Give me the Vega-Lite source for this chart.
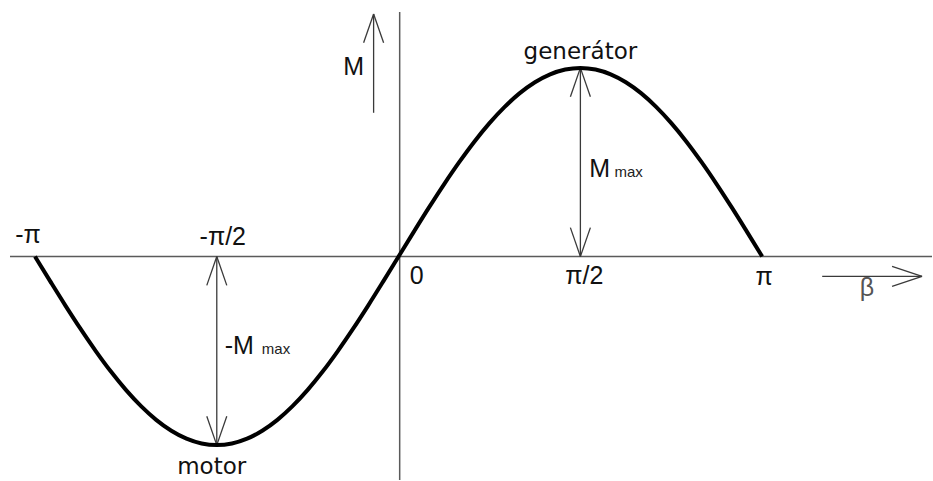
{
  "$schema": "https://vega.github.io/schema/vega-lite/v6.json",
  "width": 933,
  "height": 481,
  "padding": 0,
  "autosize": {"type": "fit", "contains": "padding"},
  "background": "white",
  "config": {"view": {"stroke": null}},
  "datasets": {
    "curve": [
      {"b": -1, "m": 0}, {"b": -0.9583, "m": -0.1305}, {"b": -0.9167, "m": -0.2588}, {"b": -0.875, "m": -0.3827},
      {"b": -0.8333, "m": -0.5}, {"b": -0.7917, "m": -0.6088}, {"b": -0.75, "m": -0.7071}, {"b": -0.7083, "m": -0.7934},
      {"b": -0.6667, "m": -0.866}, {"b": -0.625, "m": -0.9239}, {"b": -0.5833, "m": -0.9659}, {"b": -0.5417, "m": -0.9914},
      {"b": -0.5, "m": -1}, {"b": -0.4583, "m": -0.9914}, {"b": -0.4167, "m": -0.9659}, {"b": -0.375, "m": -0.9239},
      {"b": -0.3333, "m": -0.866}, {"b": -0.2917, "m": -0.7934}, {"b": -0.25, "m": -0.7071}, {"b": -0.2083, "m": -0.6088},
      {"b": -0.1667, "m": -0.5}, {"b": -0.125, "m": -0.3827}, {"b": -0.0833, "m": -0.2588}, {"b": -0.0417, "m": -0.1305},
      {"b": 0, "m": 0},
      {"b": 0.0417, "m": 0.1305}, {"b": 0.0833, "m": 0.2588}, {"b": 0.125, "m": 0.3827}, {"b": 0.1667, "m": 0.5},
      {"b": 0.2083, "m": 0.6088}, {"b": 0.25, "m": 0.7071}, {"b": 0.2917, "m": 0.7934}, {"b": 0.3333, "m": 0.866},
      {"b": 0.375, "m": 0.9239}, {"b": 0.4167, "m": 0.9659}, {"b": 0.4583, "m": 0.9914}, {"b": 0.5, "m": 1},
      {"b": 0.5417, "m": 0.9914}, {"b": 0.5833, "m": 0.9659}, {"b": 0.625, "m": 0.9239}, {"b": 0.6667, "m": 0.866},
      {"b": 0.7083, "m": 0.7934}, {"b": 0.75, "m": 0.7071}, {"b": 0.7917, "m": 0.6088}, {"b": 0.8333, "m": 0.5},
      {"b": 0.875, "m": 0.3827}, {"b": 0.9167, "m": 0.2588}, {"b": 0.9583, "m": 0.1305}, {"b": 1, "m": 0}
    ],
    "axes": [
      {"name": "beta axis", "b": -1.0687, "b2": 1.467, "m": 0, "m2": 0},
      {"name": "M axis", "b": 0.003, "b2": 0.003, "m": 1.296, "m2": -1.185}
    ],
    "arrows": [
      {"name": "M", "b": -0.0687, "b2": -0.0687, "m": 1.286, "m2": 0.762},
      {"name": "M head", "b": -0.0687, "b2": -0.0962, "m": 1.286, "m2": 1.133},
      {"name": "M head", "b": -0.0687, "b2": -0.0412, "m": 1.286, "m2": 1.133},
      {"name": "Mmax", "b": 0.5, "b2": 0.5, "m": 0, "m2": 1},
      {"name": "Mmax top head", "b": 0.5, "b2": 0.4725, "m": 1, "m2": 0.847},
      {"name": "Mmax top head", "b": 0.5, "b2": 0.5275, "m": 1, "m2": 0.847},
      {"name": "Mmax bottom head", "b": 0.5, "b2": 0.4725, "m": 0, "m2": 0.153},
      {"name": "Mmax bottom head", "b": 0.5, "b2": 0.5275, "m": 0, "m2": 0.153},
      {"name": "-Mmax", "b": -0.5, "b2": -0.5, "m": 0, "m2": -1},
      {"name": "-Mmax top head", "b": -0.5, "b2": -0.5275, "m": 0, "m2": -0.153},
      {"name": "-Mmax top head", "b": -0.5, "b2": -0.4725, "m": 0, "m2": -0.153},
      {"name": "-Mmax bottom head", "b": -0.5, "b2": -0.5275, "m": -1, "m2": -0.847},
      {"name": "-Mmax bottom head", "b": -0.5, "b2": -0.4725, "m": -1, "m2": -0.847},
      {"name": "beta", "b": 1.165, "b2": 1.4396, "m": -0.1058, "m2": -0.1058},
      {"name": "beta head", "b": 1.4396, "b2": 1.3572, "m": -0.1058, "m2": -0.0529},
      {"name": "beta head", "b": 1.4396, "b2": 1.3572, "m": -0.1058, "m2": -0.1587}
    ],
    "labels": [
      {"text": "-π", "kind": "tick", "b": -1.019, "m": 0.074},
      {"text": "-π/2", "kind": "tick", "b": -0.4835, "m": 0.0635},
      {"text": "0", "kind": "tick", "b": 0.0495, "m": -0.148},
      {"text": "π/2", "kind": "tick", "b": 0.511, "m": -0.148},
      {"text": "π", "kind": "tick", "b": 1.0055, "m": -0.153},
      {"text": "β", "kind": "greek", "b": 1.288, "m": -0.212},
      {"text": "M", "kind": "tick", "b": -0.1236, "m": 0.963},
      {"text": "generátor", "kind": "note", "b": 0.5, "m": 1.048},
      {"text": "motor", "kind": "note", "b": -0.514, "m": -1.153},
      {"text": "M", "kind": "amp", "b": 0.5247, "m": 0.423},
      {"text": "max", "kind": "sub", "b": 0.5935, "m": 0.423},
      {"text": "-M", "kind": "amp", "b": -0.478, "m": -0.5185},
      {"text": "max", "kind": "sub", "b": -0.376, "m": -0.5185}
    ]
  },
  "encoding": {
    "x": {"field": "b", "type": "quantitative", "axis": null,
          "scale": {"domain": [-1.0962, 1.467], "nice": false, "zero": false}},
    "y": {"field": "m", "type": "quantitative", "axis": null,
          "scale": {"domain": [-1.185, 1.36], "nice": false, "zero": false}}
  },
  "layer": [
    {
      "data": {"name": "axes"},
      "mark": {"type": "rule", "color": "#5a5a5a", "strokeWidth": 1.5},
      "encoding": {"x2": {"field": "b2"}, "y2": {"field": "m2"}}
    },
    {
      "data": {"name": "arrows"},
      "mark": {"type": "rule", "color": "#3a3a3a", "strokeWidth": 1.3},
      "encoding": {"x2": {"field": "b2"}, "y2": {"field": "m2"}}
    },
    {
      "data": {"name": "curve"},
      "mark": {"type": "line", "color": "#000000", "strokeWidth": 4, "interpolate": "monotone"}
    },
    {
      "data": {"name": "labels"},
      "transform": [{"filter": "datum.kind === 'tick'"}],
      "mark": {"type": "text", "font": "Liberation Sans", "fontSize": 25, "color": "#111111",
               "align": "center", "baseline": "alphabetic"},
      "encoding": {"text": {"field": "text"}}
    },
    {
      "data": {"name": "labels"},
      "transform": [{"filter": "datum.kind === 'greek'"}],
      "mark": {"type": "text", "font": "Liberation Sans", "fontSize": 25, "color": "#555555",
               "align": "center", "baseline": "alphabetic"},
      "encoding": {"text": {"field": "text"}}
    },
    {
      "data": {"name": "labels"},
      "transform": [{"filter": "datum.kind === 'note'"}],
      "mark": {"type": "text", "font": "DejaVu Sans", "fontSize": 23, "color": "#111111",
               "align": "center", "baseline": "alphabetic"},
      "encoding": {"text": {"field": "text"}}
    },
    {
      "data": {"name": "labels"},
      "transform": [{"filter": "datum.kind === 'amp'"}],
      "mark": {"type": "text", "font": "Liberation Sans", "fontSize": 25, "color": "#111111",
               "align": "left", "baseline": "alphabetic"},
      "encoding": {"text": {"field": "text"}}
    },
    {
      "data": {"name": "labels"},
      "transform": [{"filter": "datum.kind === 'sub'"}],
      "mark": {"type": "text", "font": "Liberation Sans", "fontSize": 15, "color": "#222222",
               "align": "left", "baseline": "alphabetic"},
      "encoding": {"text": {"field": "text"}}
    }
  ]
}
